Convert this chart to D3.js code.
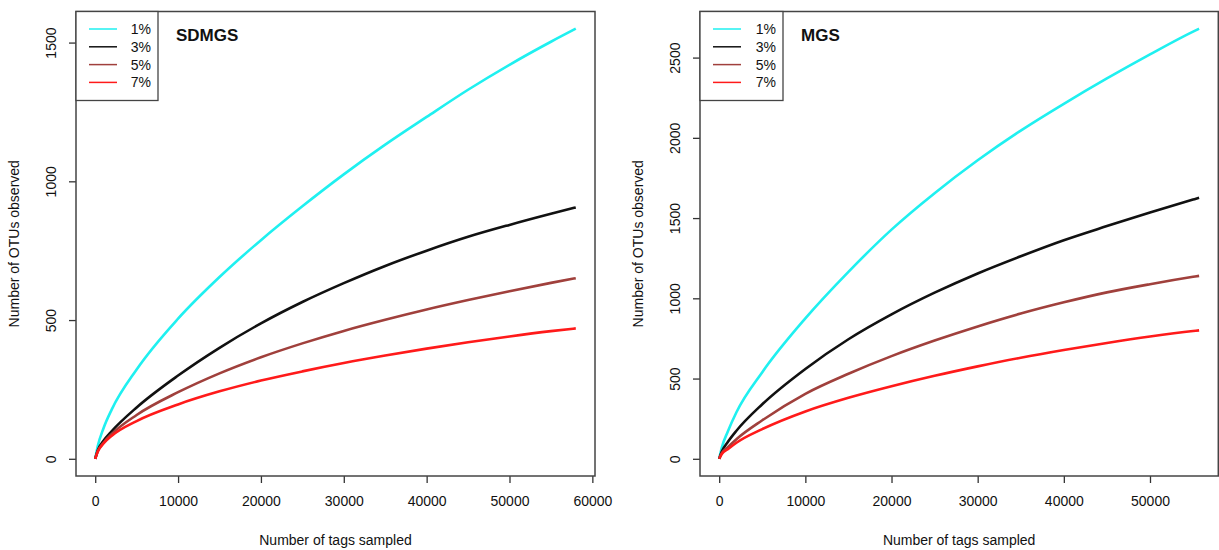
<!DOCTYPE html>
<html>
<head>
<meta charset="utf-8">
<script src="https://cdn.jsdelivr.net/npm/d3@7"></script>
<style>
  body { margin: 0; background: #fff; }
  text { font-family: "Liberation Sans", Arial, sans-serif; fill: #111; }
</style>
</head>
<body>
<div id="chart"></div>
<script>
// tags sampled (thousands) and OTU counts
let sdmgsX = [0, 0.3, 1, 2, 5, 10, 15, 20, 25, 30, 35, 40, 45, 50, 55, 58];
let sdmgs1 = [0, 45, 110, 178, 322, 505, 655, 788, 910, 1025, 1132, 1232, 1330, 1420, 1503, 1550];
let sdmgs3 = [0, 30, 65, 100, 185, 300, 400, 488, 565, 633, 695, 750, 800, 843, 883, 906];
let sdmgs5 = [0, 27, 58, 90, 158, 240, 308, 366, 416, 461, 501, 538, 572, 604, 634, 651];
let sdmgs7 = [0, 25, 55, 83, 136, 196, 243, 282, 315, 345, 372, 397, 420, 441, 460, 470];

let mgsX = [0, 0.3, 1, 2, 5, 10, 15, 20, 25, 30, 35, 40, 45, 50, 55, 55.7];
let mgs1 = [0, 70, 170, 290, 540, 875, 1165, 1428, 1655, 1860, 2045, 2212, 2370, 2520, 2662, 2680];
let mgs3 = [0, 45, 105, 175, 340, 560, 745, 900, 1035, 1155, 1262, 1362, 1450, 1535, 1615, 1626];
let mgs5 = [0, 35, 72, 122, 240, 405, 530, 640, 737, 825, 905, 975, 1037, 1088, 1134, 1140];
let mgs7 = [0, 30, 60, 100, 185, 295, 380, 452, 517, 576, 630, 678, 722, 762, 796, 800];

let seriesNames = ["1%", "3%", "5%", "7%"];
let seriesColors = ["#1ff0f0", "#111111", "#a0403c", "#ff1a1a"];

let xTicksLeft = [0, 10000, 20000, 30000, 40000, 50000, 60000];
let xTicksRight = [0, 10000, 20000, 30000, 40000, 50000];
let yTicksLeft = [0, 500, 1000, 1500];
let yTicksRight = [0, 500, 1000, 1500, 2000, 2500];

let width = 1219, height = 550;

let svg = d3.select("#chart").append("svg")
    .attr("width", width)
    .attr("height", height);

function drawPanel(opt) {
    // R style: 4% padding round the data range
    let xMax = d3.max(opt.xs) * 1000;
    let yMax = d3.max(opt.series.map(s => d3.max(s)));
    let x = d3.scaleLinear().domain([-0.04 * xMax, 1.04 * xMax]).range([opt.left, opt.right]);
    let y = d3.scaleLinear().domain([-0.04 * yMax, 1.04 * yMax]).range([opt.bottom, opt.top]);

    let g = svg.append("g");

    // curves
    let line = d3.line()
        .curve(d3.curveMonotoneX)
        .x((d, i) => x(opt.xs[i] * 1000))
        .y(d => y(d));

    opt.series.forEach((s, i) => {
        g.append("path")
            .datum(s)
            .attr("fill", "none")
            .attr("stroke", seriesColors[i])
            .attr("stroke-width", 2.6)
            .attr("stroke-linejoin", "round")
            .attr("d", line);
    });

    // axes
    let xAxis = g.append("g")
        .attr("transform", `translate(0,${opt.bottom})`)
        .call(d3.axisBottom(x).tickValues(opt.xTicks).tickSize(7).tickPadding(13).tickFormat(d3.format("d")));
    xAxis.select(".domain").remove();
    xAxis.selectAll("line").attr("stroke", "#333").attr("stroke-width", 1.3);
    xAxis.selectAll("text").style("font-size", "14px").attr("fill", "#111");

    let yAxis = g.append("g")
        .attr("transform", `translate(${opt.left},0)`)
        .call(d3.axisLeft(y).tickValues(opt.yTicks).tickSize(7).tickFormat(d3.format("d")));
    yAxis.select(".domain").remove();
    yAxis.selectAll("line").attr("stroke", "#333").attr("stroke-width", 1.3);
    yAxis.selectAll("text")
        .style("font-size", "14px")
        .attr("fill", "#111")
        .attr("text-anchor", "middle")
        .attr("x", null).attr("dy", null)
        .attr("transform", "translate(-20,0) rotate(-90)");

    // box
    g.append("rect")
        .attr("x", opt.left).attr("y", opt.top)
        .attr("width", opt.right - opt.left)
        .attr("height", opt.bottom - opt.top)
        .attr("fill", "none")
        .attr("stroke", "#444")
        .attr("stroke-width", 1.5);

    // axis titles
    g.append("text")
        .attr("x", x(xMax / 2)).attr("y", 545)
        .attr("text-anchor", "middle")
        .style("font-size", "14px")
        .text("Number of tags sampled");

    g.append("text")
        .attr("transform", `translate(${opt.left - 57},${(opt.top + opt.bottom) / 2}) rotate(-90)`)
        .attr("text-anchor", "middle")
        .style("font-size", "14px")
        .text("Number of OTUs observed");

    // legend
    let lg = g.append("g").attr("transform", `translate(${opt.left},${opt.top})`);
    lg.append("rect")
        .attr("x", 0).attr("y", 0)
        .attr("width", opt.legendW).attr("height", 89)
        .attr("fill", "#fff")
        .attr("stroke", "#444")
        .attr("stroke-width", 1.3);
    seriesNames.forEach((name, i) => {
        let yy = 17.5 + i * 17.8;
        lg.append("line")
            .attr("x1", 13).attr("x2", 41)
            .attr("y1", yy).attr("y2", yy)
            .attr("stroke", seriesColors[i])
            .attr("stroke-width", 1.5);
        lg.append("text")
            .attr("x", opt.legendW - 7).attr("y", yy + 5)
            .attr("text-anchor", "end")
            .style("font-size", "14px")
            .text(name);
    });

    // panel title
    g.append("text")
        .attr("x", opt.left + opt.legendW + 18).attr("y", 41)
        .style("font-size", "17px")
        .style("font-weight", "bold")
        .text(opt.title);
}

drawPanel({
    title: "SDMGS", xs: sdmgsX, series: [sdmgs1, sdmgs3, sdmgs5, sdmgs7],
    xTicks: xTicksLeft, yTicks: yTicksLeft,
    left: 76, right: 595, top: 11.5, bottom: 476, legendW: 82
});

drawPanel({
    title: "MGS", xs: mgsX, series: [mgs1, mgs3, mgs5, mgs7],
    xTicks: xTicksRight, yTicks: yTicksRight,
    left: 700, right: 1218.3, top: 11.5, bottom: 476, legendW: 83
});
</script>
</body>
</html>
